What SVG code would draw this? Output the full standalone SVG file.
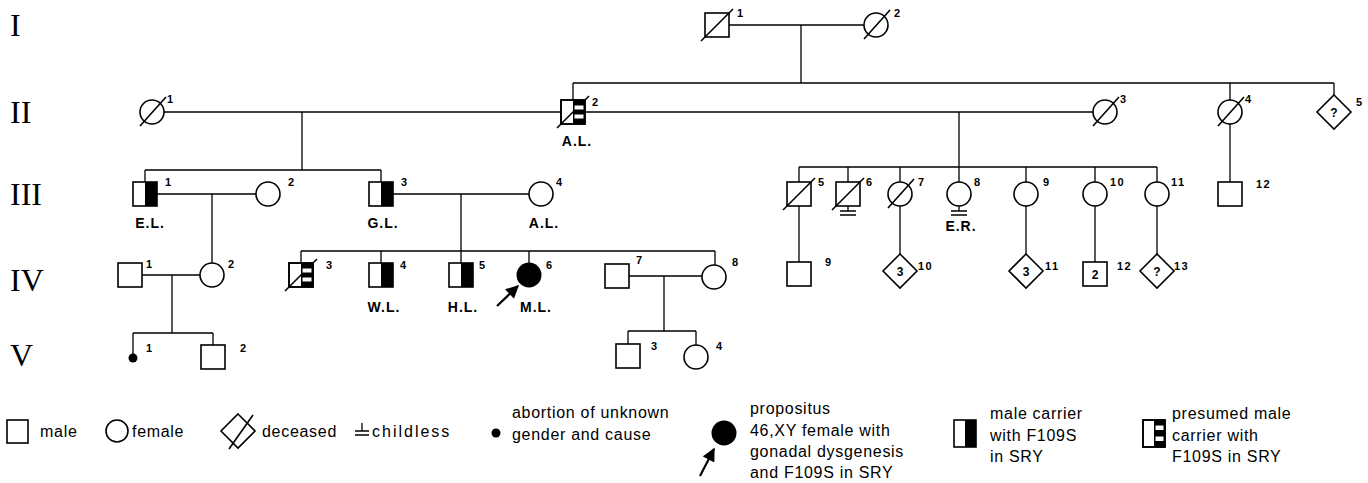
<svg xmlns="http://www.w3.org/2000/svg" width="1368" height="483" viewBox="0 0 1368 483">
<style>
.ln{stroke:#000;stroke-width:1.3;fill:none}
.sym{stroke:#000;stroke-width:1.6;fill:#fff}
.sl{stroke:#000;stroke-width:1.6;fill:none}
.arr{stroke:#000;stroke-width:2.2;fill:none}
.blk{fill:#000}
.wht{fill:#fff}
.num{font-family:'Liberation Sans',Arial,sans-serif;font-size:11px;font-weight:bold;letter-spacing:1.5px;fill:#000}
.nm{font-family:'Liberation Sans',Arial,sans-serif;font-size:14px;font-weight:bold;letter-spacing:1px;fill:#000;text-anchor:middle}
.gen{font-family:'Liberation Serif','Times New Roman',serif;font-size:32px;fill:#000}
.lg{font-family:'Liberation Sans',Arial,sans-serif;font-size:16px;letter-spacing:0.7px;fill:#000}
.wide{letter-spacing:2px}
.in{font-family:'Liberation Sans',Arial,sans-serif;font-size:12px;font-weight:bold;text-anchor:middle;fill:#000}
</style>
<defs>
<marker id="ah" viewBox="0 0 10 10" refX="9" refY="5" markerWidth="15" markerHeight="13" markerUnits="userSpaceOnUse" orient="auto">
<path d="M0,0 L10,5 L0,10 z" fill="#000"/>
</marker>
</defs>
<rect width="1368" height="483" fill="#fff"/>

<g id="generations">
<text class="gen" x="10" y="36">I</text>
<text class="gen" x="10" y="123">II</text>
<text class="gen" x="10" y="205">III</text>
<text class="gen" x="10" y="291">IV</text>
<text class="gen" x="10" y="366">V</text>
</g>

<g id="connectors">
<path class="ln" d="M729 25H864 M801 25V83 M573 83H1334 M573 83V100 M1230 83V100 M1334 83V95"/>
<path class="ln" d="M164 112H561 M302 112V170 M145 170H381 M145 170V182 M381 170V182"/>
<path class="ln" d="M585 112H1093 M959 112V167 M799 167H1157 M799 167V182 M848 167V182 M900 167V182 M959 167V182 M1026 167V182 M1095 167V182 M1157 167V182"/>
<path class="ln" d="M1230 124V182"/>
<path class="ln" d="M157 194H256 M212 194V263 M393 194H529 M461 194V263"/>
<path class="ln" d="M301 251H715 M301 251V263 M381 251V263 M529 251V263 M715 251V265"/>
<path class="ln" d="M799 206V262 M900 206V254 M1026 206V254 M1095 206V262 M1157 206V254"/>
<path class="ln" d="M142 275H200 M172 275V333 M133 333H213 M133 333V354 M213 333V345"/>
<path class="ln" d="M629 276H702 M664 276V331 M628 331H696 M628 331V344 M696 331V345"/>
</g>

<g id="I-1"><rect class="sym" x="705" y="13" width="24" height="24"/><line class="sl" x1="701" y1="41" x2="733" y2="9"/><text class="num" x="737" y="17">1</text></g>
<g id="I-2"><circle class="sym" cx="876" cy="25" r="12"/><line class="sl" x1="864" y1="39" x2="890" y2="10"/><text class="num" x="894" y="17">2</text></g>

<g id="II-1"><circle class="sym" cx="152" cy="112" r="12"/><line class="sl" x1="140" y1="126" x2="166" y2="97"/><text class="num" x="167" y="103">1</text></g>
<g id="II-2"><rect class="sym" x="561" y="100" width="24" height="24"/><line class="sl" x1="557" y1="128" x2="589" y2="96"/><rect class="blk" x="573" y="100" width="12" height="24"/><rect class="wht" x="574.5" y="105.5" width="9" height="4"/><rect class="wht" x="574.5" y="114.5" width="9" height="4"/><rect class="sl" x="561" y="100" width="24" height="24"/><text class="num" x="592" y="106">2</text><text class="nm" x="577" y="146">A.L.</text></g>
<g id="II-3"><circle class="sym" cx="1105" cy="112" r="12"/><line class="sl" x1="1093" y1="126" x2="1119" y2="97"/><text class="num" x="1120" y="103">3</text></g>
<g id="II-4"><circle class="sym" cx="1230" cy="112" r="12"/><line class="sl" x1="1218" y1="126" x2="1244" y2="97"/><text class="num" x="1245" y="103">4</text></g>
<g id="II-5"><polygon class="sym" points="1334,95 1351,112 1334,129 1317,112"/><text class="in" x="1334" y="117">?</text><text class="num" x="1356" y="106">5</text></g>

<g id="III-1"><rect class="sym" x="133" y="182" width="24" height="24"/><rect class="blk" x="145" y="182" width="12" height="24"/><text class="num" x="165" y="186">1</text><text class="nm" x="150" y="228">E.L.</text></g>
<g id="III-2"><circle class="sym" cx="268" cy="194" r="12"/><text class="num" x="288" y="186">2</text></g>
<g id="III-3"><rect class="sym" x="369" y="182" width="24" height="24"/><rect class="blk" x="381" y="182" width="12" height="24"/><text class="num" x="401" y="186">3</text><text class="nm" x="383" y="228">G.L.</text></g>
<g id="III-4"><circle class="sym" cx="541" cy="194" r="12"/><text class="num" x="556" y="186">4</text><text class="nm" x="544" y="228">A.L.</text></g>
<g id="III-5"><rect class="sym" x="787" y="182" width="24" height="24"/><line class="sl" x1="783" y1="210" x2="815" y2="178"/><text class="num" x="818" y="186">5</text></g>
<g id="III-6"><rect class="sym" x="836" y="182" width="24" height="24"/><line class="sl" x1="832" y1="210" x2="864" y2="178"/><path class="ln" d="M848 206V211 M840 211H856 M840 215H856"/><text class="num" x="866" y="186">6</text></g>
<g id="III-7"><circle class="sym" cx="900" cy="194" r="12"/><line class="sl" x1="888" y1="208" x2="914" y2="179"/><text class="num" x="918" y="186">7</text></g>
<g id="III-8"><circle class="sym" cx="959" cy="194" r="12"/><path class="ln" d="M959 206V211 M951 211H967 M951 215H967"/><text class="num" x="974" y="186">8</text><text class="nm" x="961" y="231">E.R.</text></g>
<g id="III-9"><circle class="sym" cx="1026" cy="194" r="12"/><text class="num" x="1043" y="186">9</text></g>
<g id="III-10"><circle class="sym" cx="1095" cy="194" r="12"/><text class="num" x="1110" y="186">10</text></g>
<g id="III-11"><circle class="sym" cx="1157" cy="194" r="12"/><text class="num" x="1171" y="186">11</text></g>
<g id="III-12"><rect class="sym" x="1218" y="182" width="24" height="24"/><text class="num" x="1256" y="188">12</text></g>

<g id="IV-1"><rect class="sym" x="118" y="263" width="24" height="24"/><text class="num" x="146" y="268">1</text></g>
<g id="IV-2"><circle class="sym" cx="212" cy="275" r="12"/><text class="num" x="228" y="268">2</text></g>
<g id="IV-3"><rect class="sym" x="289" y="263" width="24" height="24"/><line class="sl" x1="285" y1="291" x2="317" y2="259"/><rect class="blk" x="301" y="263" width="12" height="24"/><rect class="wht" x="302.5" y="268.5" width="9" height="4"/><rect class="wht" x="302.5" y="277.5" width="9" height="4"/><rect class="sl" x="289" y="263" width="24" height="24"/><text class="num" x="326" y="269">3</text></g>
<g id="IV-4"><rect class="sym" x="369" y="263" width="24" height="24"/><rect class="blk" x="381" y="263" width="12" height="24"/><text class="num" x="400" y="269">4</text><text class="nm" x="384" y="312">W.L.</text></g>
<g id="IV-5"><rect class="sym" x="449" y="263" width="24" height="24"/><rect class="blk" x="461" y="263" width="12" height="24"/><text class="num" x="479" y="269">5</text><text class="nm" x="463" y="312">H.L.</text></g>
<g id="IV-6"><circle cx="529" cy="275" r="12.5" fill="#000"/><line class="arr" x1="497" y1="306" x2="518" y2="286" marker-end="url(#ah)"/><text class="num" x="546" y="269">6</text><text class="nm" x="536" y="312">M.L.</text></g>
<g id="IV-7"><rect class="sym" x="605" y="264" width="24" height="24"/><text class="num" x="636" y="264">7</text></g>
<g id="IV-8"><circle class="sym" cx="714" cy="277" r="12"/><text class="num" x="732" y="266">8</text></g>
<g id="IV-9"><rect class="sym" x="787" y="262" width="24" height="24"/><text class="num" x="825" y="266">9</text></g>
<g id="IV-10"><polygon class="sym" points="900,254 917,271 900,288 883,271"/><text class="in" x="900" y="276">3</text><text class="num" x="918" y="270">10</text></g>
<g id="IV-11"><polygon class="sym" points="1026,254 1043,271 1026,288 1009,271"/><text class="in" x="1026" y="276">3</text><text class="num" x="1045" y="270">11</text></g>
<g id="IV-12"><rect class="sym" x="1083" y="262" width="24" height="24"/><text class="in" x="1095" y="279">2</text><text class="num" x="1117" y="270">12</text></g>
<g id="IV-13"><polygon class="sym" points="1157,254 1174,271 1157,288 1140,271"/><text class="in" x="1157" y="276">?</text><text class="num" x="1174" y="270">13</text></g>

<g id="V-1"><circle cx="133" cy="358" r="4.5" fill="#000"/><text class="num" x="146" y="352">1</text></g>
<g id="V-2"><rect class="sym" x="201" y="345" width="24" height="24"/><text class="num" x="240" y="352">2</text></g>
<g id="V-3"><rect class="sym" x="616" y="344" width="24" height="24"/><text class="num" x="651" y="350">3</text></g>
<g id="V-4"><circle class="sym" cx="696" cy="357" r="12"/><text class="num" x="716" y="350">4</text></g>

<g id="legend">
<g id="lg-male"><rect class="sym" x="7" y="420" width="21" height="23"/><text class="lg" x="40" y="437">male</text></g>
<g id="lg-female"><circle class="sym" cx="117" cy="431" r="11"/><text class="lg" x="132" y="437">female</text></g>
<g id="lg-deceased"><polygon class="sym" points="238,414 255,431 238,448 221,431"/><line class="sl" x1="229" y1="449" x2="253" y2="415"/><text class="lg" x="262" y="437">deceased</text></g>
<g id="lg-childless"><path class="ln" d="M362 423V431 M355 431H369 M355 435H369"/><text class="lg wide" x="372" y="437">childless</text></g>
<g id="lg-abortion"><circle cx="496" cy="433" r="4.5" fill="#000"/><text class="lg" x="512" y="418">abortion of unknown</text><text class="lg" x="512" y="440">gender and cause</text></g>
<g id="lg-propositus"><circle cx="724" cy="433" r="12.5" fill="#000"/><line class="arr" x1="700" y1="476" x2="714" y2="449" marker-end="url(#ah)"/><text class="lg" x="750" y="414">propositus</text><text class="lg" x="750" y="436">46,XY female with</text><text class="lg" x="750" y="457">gonadal dysgenesis</text><text class="lg" x="750" y="478">and F109S in SRY</text></g>
<g id="lg-carrier"><rect class="sym" x="954" y="420" width="22" height="27"/><rect class="blk" x="965" y="420" width="11" height="27"/><text class="lg" x="990" y="419">male carrier</text><text class="lg" x="990" y="441">with F109S</text><text class="lg" x="990" y="462">in SRY</text></g>
<g id="lg-presumed"><rect class="sym" x="1143" y="420" width="22" height="27"/><rect class="blk" x="1154" y="420" width="11" height="27"/><rect class="wht" x="1155.5" y="425.5" width="8" height="4.5"/><rect class="wht" x="1155.5" y="436.5" width="8" height="4.5"/><rect class="sl" x="1143" y="420" width="22" height="27"/><text class="lg" x="1172" y="419">presumed male</text><text class="lg" x="1172" y="441">carrier with</text><text class="lg" x="1172" y="462">F109S in SRY</text></g>
</g>
</svg>
